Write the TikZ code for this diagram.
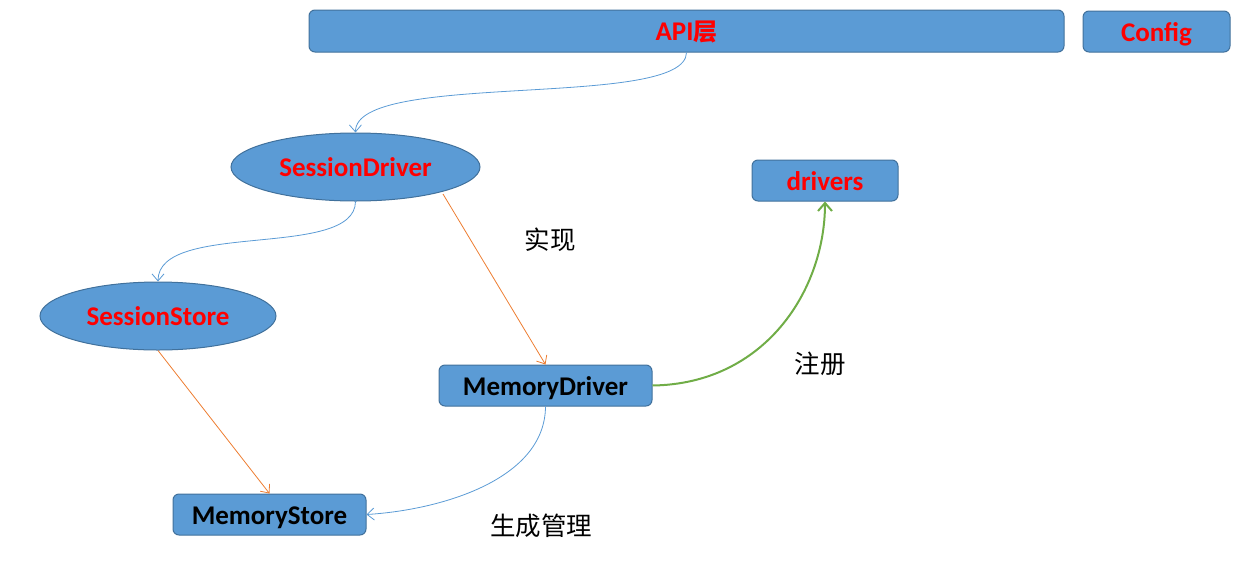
\documentclass[tikz,border=0pt]{standalone}
\usepackage{fontspec}
\setmainfont{Carlito}
\newfontfamily\cjk{Noto Sans CJK SC}
\newfontfamily\cjkb{Noto Sans CJK SC Bold}
\usetikzlibrary{arrows.meta,shapes.geometric}
\definecolor{boxfill}{HTML}{5B9BD5}
\definecolor{boxline}{HTML}{41719C}
\definecolor{lblue}{HTML}{5B9BD5}
\definecolor{lorange}{HTML}{ED7D31}
\definecolor{lgreen}{HTML}{70AD47}
\definecolor{tred}{HTML}{FF0000}
\tikzset{
  rbox/.style={draw=boxline, fill=boxfill, rounded corners=6pt, line width=1pt, inner sep=0pt, text height=19pt, text depth=0pt, font=\fontsize{27}{30}\selectfont\bfseries},
  ell/.style={ellipse, draw=boxline, fill=boxfill, line width=1pt, inner sep=0pt, text height=19pt, text depth=0pt, font=\fontsize{27}{30}\selectfont\bfseries, text=tred},
  conn/.style={line width=0.8pt, -{Straight Barb[length=7pt,width=12pt]}},
  lbl/.style={font=\cjk\fontsize{25.5}{28}\selectfont, inner sep=0pt},
}
\begin{document}
\begin{tikzpicture}[x=1pt,y=-1pt]
\useasboundingbox (0,0) rectangle (1240,560);
\node[rbox, minimum width=755pt, minimum height=42pt, text=tred] (api) at (686.5,31) {API{\cjkb\fontsize{24}{28}\selectfont 层}};
\node[rbox, minimum width=147pt, minimum height=41pt, text=tred] (config) at (1156.5,31.5) {Config};
\node[ell, minimum width=249pt, minimum height=68pt] (sd) at (355.5,167) {SessionDriver};
\node[ell, minimum width=236pt, minimum height=68pt] (ss) at (158,316) {SessionStore};
\node[rbox, minimum width=146pt, minimum height=41pt, text=tred] (drv) at (825,180.5) {drivers};
\node[rbox, minimum width=213pt, minimum height=41pt, text=black] (md) at (545.5,385.5) {MemoryDriver};
\node[rbox, minimum width=193pt, minimum height=41pt, text=black] (ms) at (269.5,514.5) {MemoryStore};
\node[lbl] (l1) at (550,240) {实现};
\node[lbl] (l2) at (820,364) {注册};
\node[lbl] (l3) at (541,526) {生成管理};
\draw[conn, lblue] (api.south) .. controls (686,110) and (355,70) .. (sd.north);
\draw[conn, lblue] (sd.south) .. controls (355,260) and (158,220) .. (ss.north);
\draw[conn, lorange] (443,194) -- (md.north);
\draw[conn, lorange] (ss.south) -- (ms.north);
\draw[conn, lblue] (md.south) .. controls (545,480) and (440,510) .. (ms.east);
\draw[line width=2pt, lgreen, -{Straight Barb[length=8pt,width=14pt]}] (md.east) .. controls (765,384) and (825,290) .. (drv.south);
\end{tikzpicture}
\end{document}
